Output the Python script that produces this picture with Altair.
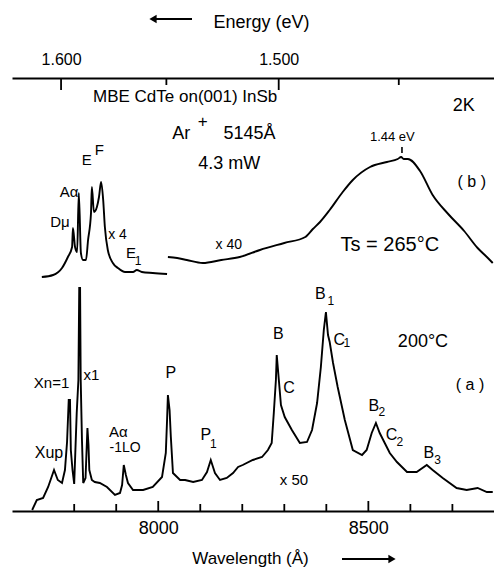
import altair as alt
import pandas as pd

# hc constant (eV*Angstrom) as calibrated on the figure's top energy axis
HC = 12430.0

# ---- spectrum (a): Ts = 200 C  (wavelength in Angstrom, intensity in arb. units)
a_wl = [7700, 7711, 7726, 7738, 7752, 7761, 7771, 7778, 7783, 7787, 7790, 7792, 7796,
        7800, 7806, 7810, 7812, 7814, 7815.5, 7818.5, 7821.5, 7827, 7831.5, 7834, 7836,
        7842, 7849, 7861, 7878, 7897, 7909, 7914, 7918, 7923, 7928, 7940, 7964, 7987,
        8009, 8018, 8021, 8023, 8027, 8030, 8035, 8052, 8064, 8083, 8104, 8116, 8125,
        8135, 8147, 8163, 8178, 8190, 8201, 8225, 8247, 8261, 8270, 8275, 8280, 8282,
        8287, 8292, 8301, 8318, 8337, 8354, 8366, 8378, 8387, 8394, 8399, 8404, 8408,
        8416, 8427, 8444, 8463, 8485, 8496, 8508, 8518, 8527, 8539, 8551, 8568, 8592,
        8615, 8639, 8653, 8677, 8710, 8734, 8760, 8782, 8796]
a_int = [1, 11, 13, 24, 41, 31, 28, 41, 69, 111, 111, 61, 41,
         27, 98, 131, 223, 223, 131, 71, 28, 33, 83, 66, 41,
         31, 29, 28, 24, 16, 18, 26, 46, 36, 28, 21, 21, 24,
         34, 58, 91, 116, 101, 74, 38, 31, 31, 29, 31, 39, 51,
         38, 31, 33, 38, 44, 46, 51, 54, 61, 68, 98, 131, 156,
         131, 106, 94, 81, 68, 69, 81, 108, 144, 181, 199, 176, 169,
         148, 124, 91, 61, 56, 61, 78, 88, 78, 68, 58, 49, 39,
         39, 46, 41, 33, 23, 21, 23, 19, 19]

# ---- spectrum (b): Ts = 265 C, x4 part and x40 part (offset upward in the figure)
b4_wl = [7723, 7750, 7771, 7785, 7795, 7797, 7802, 7807, 7811, 7816, 7821, 7828, 7833,
         7840, 7842, 7847, 7854, 7859, 7864, 7869, 7873, 7880, 7892, 7904, 7921, 7940,
         7949, 7961, 7987, 8021]
b4_int = [234, 236, 243, 254, 264, 283, 264, 259, 318, 258, 251, 251, 271,
          298, 324, 299, 304, 314, 329, 311, 284, 261, 248, 243, 239, 239,
          241, 239, 238, 237]
b40_wl = [8023, 8045, 8068, 8106, 8150, 8194, 8242, 8300, 8350, 8368, 8385, 8408, 8439,
          8463, 8504, 8544, 8570, 8578, 8584, 8594, 8623, 8653, 8690, 8728, 8760, 8782, 8796]
b40_int = [254, 253, 251, 248, 251, 254, 261, 268, 274, 282, 289, 301, 319,
           331, 344, 349, 352, 354, 352, 352, 340, 316, 297, 280, 263, 254, 248]

# marker above the (b) maximum ("1.44 eV")
peak_wl = [8580]
peak_lo = [358]
peak_hi = [364]

# ---- axes
wl_minor = [7800, 7900, 8100, 8200, 8300, 8400, 8600, 8700]
wl_major = [8000, 8500]
e_minor = [1.55, 1.45]
e_major = [1.60, 1.50]

# ---- annotations
ann_text = ["MBE CdTe on(001) InSb", "2K", "Ar", "+", "5145Å", "4.3 mW", "1.44 eV", "( b )",
            "Dμ", "Aα", "E", "F", "x 4", "E", "1", "x 40", "Ts = 265°C",
            "Xn=1", "x1", "Xup", "Aα", "-1LO", "P", "P", "1", "B", "C", "B", "1", "C", "1",
            "200°C", "( a )", "B", "2", "C", "2", "B", "3", "x 50"]
ann_wl = [8064, 8727, 8055, 8106, 8217, 8169, 8557, 8746,
          7766, 7788, 7830, 7860, 7903, 7935, 7952, 8168, 8551,
          7746, 7841, 7740, 7905, 7921, 8030, 8113, 8131, 8286, 8311, 8386, 8411, 8431, 8449,
          8630, 8742, 8513, 8532, 8555, 8575, 8644, 8665, 8323]
ann_int = [414, 405, 377, 389, 377, 347, 374, 329,
           289, 319, 351, 361, 276, 258, 250, 266, 266,
           128, 136, 58, 79, 63, 138, 76, 67, 177, 123, 217, 210, 171, 168,
           169, 126, 105, 99, 76, 69, 58, 51, 31]
ann_size = [17, 18, 18, 17, 18, 18, 13, 16,
            15, 15, 15, 15, 14, 15, 12, 14, 20,
            15, 15, 16, 15, 14, 16, 16, 12, 16, 16, 16, 12, 16, 12,
            18, 16, 16, 12, 16, 12, 16, 12, 15]

FONT = "Liberation Sans"
W, H = 482, 433
xs = alt.Scale(domain=[7652, 8799], nice=False, zero=False)
ys = alt.Scale(domain=[0, 433], nice=False, zero=False)

df_a = pd.DataFrame({"wl": a_wl, "I": a_int, "i": list(range(len(a_wl)))})
df_b = pd.concat([
    pd.DataFrame({"wl": b4_wl, "I": b4_int, "seg": "x4", "i": list(range(len(b4_wl)))}),
    pd.DataFrame({"wl": b40_wl, "I": b40_int, "seg": "x40", "i": list(range(len(b40_wl)))}),
], ignore_index=True)
df_ann = pd.DataFrame({"t": ann_text, "wl": ann_wl, "I": ann_int, "s": ann_size})
df_pk = pd.DataFrame({"wl": peak_wl, "lo": peak_lo, "hi": peak_hi})
df_emaj = pd.DataFrame({"wl": [HC / e for e in e_major]})
df_emin = pd.DataFrame({"wl": [HC / e for e in e_minor]})
df_wmaj = pd.DataFrame({"wl": wl_major})
df_wmin = pd.DataFrame({"wl": wl_minor})
dummy = pd.DataFrame({"d": [0]})

bottom_axis = alt.Axis(orient="bottom", values=wl_major, format="d", ticks=False, tickSize=0,
                       grid=False, domain=True, domainColor="black", domainWidth=2,
                       labelFont=FONT, labelFontSize=18, labelColor="black",
                       labelPadding=22, labelBaseline="alphabetic",
                       title="Wavelength (Å)", titleFont=FONT, titleFontSize=17,
                       titleFontWeight="normal", titleColor="black", titleX=238, titleY=52,
                       titleBaseline="alphabetic", titleAlign="center")
top_axis = alt.Axis(orient="top", values=[HC / e for e in e_major],
                    labelExpr="format(%s / datum.value, '.3f')" % HC,
                    ticks=False, tickSize=0, grid=False, domain=True, domainColor="black",
                    domainWidth=2, labelFont=FONT, labelFontSize=16, labelColor="black",
                    labelPadding=14, labelBaseline="alphabetic",
                    title="Energy (eV)", titleFont=FONT, titleFontSize=18,
                    titleFontWeight="normal", titleColor="black", titleX=249, titleY=-51,
                    titleBaseline="alphabetic", titleAlign="center")
left_axis = alt.Axis(orient="left", domain=True, domainColor="black", domainWidth=2,
                     ticks=False, labels=False, grid=False, title=None)

line_a = alt.Chart(df_a).mark_line(color="black", strokeWidth=1.9).encode(
    x=alt.X("wl:Q", scale=xs, axis=bottom_axis),
    y=alt.Y("I:Q", scale=ys, axis=left_axis),
    order="i:Q",
)
line_b = alt.Chart(df_b).mark_line(color="black", strokeWidth=1.9,
                                   interpolate="monotone").encode(
    x=alt.X("wl:Q", scale=xs, axis=None),
    y=alt.Y("I:Q", scale=ys, axis=None),
    detail="seg:N",
    order="i:Q",
)
top_major = alt.Chart(df_emaj).mark_rule(color="black", strokeWidth=1.8).encode(
    x=alt.X("wl:Q", scale=xs, axis=top_axis), y=alt.value(0), y2=alt.value(12))
top_minor = alt.Chart(df_emin).mark_rule(color="black", strokeWidth=1.8).encode(
    x=alt.X("wl:Q", scale=xs, axis=None), y=alt.value(0), y2=alt.value(7))
bot_major = alt.Chart(df_wmaj).mark_rule(color="black", strokeWidth=1.8).encode(
    x=alt.X("wl:Q", scale=xs, axis=None), y=alt.value(H), y2=alt.value(H - 10))
bot_minor = alt.Chart(df_wmin).mark_rule(color="black", strokeWidth=1.8).encode(
    x=alt.X("wl:Q", scale=xs, axis=None), y=alt.value(H), y2=alt.value(H - 7))
peak_mark = alt.Chart(df_pk).mark_rule(color="black", strokeWidth=1.6).encode(
    x=alt.X("wl:Q", scale=xs, axis=None),
    y=alt.Y("lo:Q", scale=ys, axis=None), y2="hi:Q")
texts = alt.Chart(df_ann).mark_text(font=FONT, color="black", align="center",
                                    baseline="middle").encode(
    x=alt.X("wl:Q", scale=xs, axis=None),
    y=alt.Y("I:Q", scale=ys, axis=None),
    text="t:N",
    size=alt.Size("s:Q", scale=None),
)
# arrows next to the axis titles
arr_top_line = alt.Chart(dummy).mark_rule(color="black", strokeWidth=1.8).encode(
    x=alt.value(141), x2=alt.value(180), y=alt.value(-59))
arr_top_head = alt.Chart(dummy).mark_point(shape="triangle-left", filled=True, size=70,
                                           color="black", opacity=1).encode(
    x=alt.value(141), y=alt.value(-59))
arr_bot_line = alt.Chart(dummy).mark_rule(color="black", strokeWidth=1.8).encode(
    x=alt.value(330), x2=alt.value(380), y=alt.value(481))
arr_bot_head = alt.Chart(dummy).mark_point(shape="triangle-right", filled=True, size=70,
                                           color="black", opacity=1).encode(
    x=alt.value(380), y=alt.value(481))

chart = alt.layer(
    line_a, line_b, top_major, top_minor, bot_major, bot_minor, peak_mark, texts,
    arr_top_line, arr_top_head, arr_bot_line, arr_bot_head,
).properties(
    width=W, height=H,
    padding={"left": 12, "top": 78, "right": 0, "bottom": 60},
    autosize=alt.AutoSizeParams(type="none"),
    background="white",
).configure_view(stroke=None)

chart.save("out.html", embed_options={"renderer": "svg", "actions": False})
